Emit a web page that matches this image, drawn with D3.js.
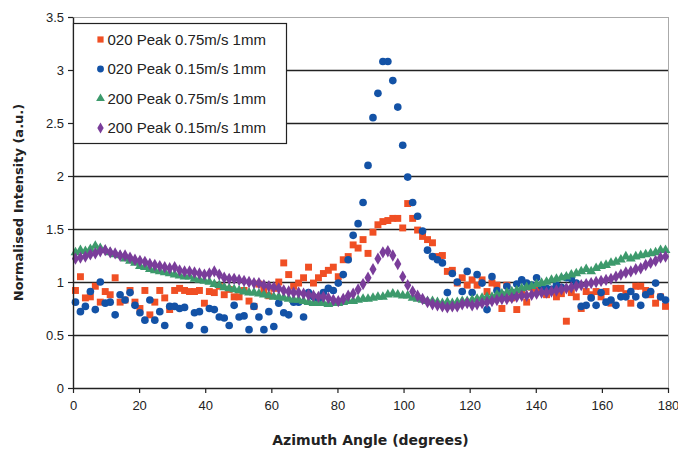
<!DOCTYPE html>
<html>
<head>
<meta charset="utf-8">
<script src="https://cdn.jsdelivr.net/npm/d3@7"></script>
<style>
  body { margin: 0; background: #fff; }
  text { font-family: "Liberation Sans", Arial, sans-serif; }
</style>
</head>
<body>
<svg id="chart"></svg>
<script>
// bin centres, 1.5 degree steps
const angles = d3.range(0.75, 180, 1.5);

const peak020Fast = [0.92,1.05,0.85,0.86,0.96,0.81,0.91,0.88,1.04,0.81,0.83,0.92,0.81,0.75,0.92,0.69,0.81,0.92,0.85,0.74,
  0.92,0.94,0.92,0.91,0.91,0.92,0.80,0.91,0.90,0.96,0.88,0.93,0.86,0.86,0.92,0.82,0.77,0.98,0.92,0.87,
  0.94,1.00,1.18,1.07,0.96,0.99,1.04,1.14,0.99,1.04,1.08,1.11,1.14,1.05,1.21,1.24,1.35,1.32,1.40,1.27,
  1.47,1.54,1.57,1.58,1.60,1.60,1.51,1.74,1.60,1.49,1.43,1.40,1.37,1.24,1.25,1.10,1.11,0.99,1.04,0.97,
  1.02,0.97,1.02,0.91,0.99,0.97,0.75,0.97,0.85,0.74,0.90,0.81,0.95,0.92,0.96,0.88,0.92,0.86,0.89,0.63,
  0.90,0.86,0.75,0.91,0.88,0.91,0.86,0.91,0.80,0.94,0.94,0.89,0.80,0.96,0.96,0.92,0.88,0.80,0.86,0.77];

const peak020Slow = [0.81,0.72,0.77,0.91,0.74,1.00,0.80,0.81,0.69,0.88,0.83,0.90,0.78,0.71,0.64,0.83,0.64,0.72,0.59,0.77,
  0.77,0.75,0.76,0.59,0.71,0.72,0.55,0.75,0.74,0.67,0.66,0.59,0.78,0.67,0.68,0.55,0.77,0.67,0.55,0.72,
  0.58,0.80,0.71,0.69,0.81,0.81,0.67,0.90,0.86,0.84,0.90,0.94,0.92,0.99,1.07,1.21,1.44,1.55,1.75,2.10,
  2.55,2.78,3.08,3.08,2.90,2.65,2.29,1.99,1.75,1.62,1.48,1.30,1.24,1.21,1.18,0.90,1.08,1.00,0.91,1.10,
  0.90,1.07,0.99,0.74,1.05,0.92,0.88,0.96,0.90,0.98,1.02,0.99,0.97,1.04,0.96,0.94,0.93,0.97,0.95,1.04,
  1.03,0.99,0.77,0.78,0.85,0.78,0.90,0.81,0.83,0.78,0.86,0.86,0.91,0.86,0.78,0.88,0.91,0.99,0.86,0.83];

const peak200Fast = [1.28,1.30,1.29,1.31,1.34,1.32,1.30,1.28,1.26,1.25,1.22,1.20,1.18,1.15,1.14,1.12,1.11,1.10,1.09,1.08,
  1.07,1.06,1.05,1.05,1.03,1.02,1.01,1.00,0.98,0.97,0.95,0.94,0.93,0.92,0.91,0.90,0.90,0.89,0.88,0.87,
  0.86,0.86,0.85,0.84,0.83,0.83,0.82,0.81,0.80,0.80,0.80,0.79,0.80,0.80,0.81,0.82,0.82,0.83,0.84,0.84,
  0.85,0.86,0.86,0.88,0.89,0.88,0.87,0.87,0.85,0.84,0.83,0.82,0.82,0.81,0.80,0.81,0.80,0.81,0.82,0.82,
  0.83,0.84,0.85,0.86,0.86,0.88,0.89,0.90,0.91,0.92,0.94,0.95,0.96,0.98,0.99,1.00,1.02,1.03,1.04,1.05,
  1.07,1.08,1.10,1.12,1.10,1.13,1.15,1.16,1.18,1.19,1.21,1.24,1.22,1.24,1.25,1.26,1.27,1.28,1.30,1.30];

const peak200Slow = [1.22,1.23,1.24,1.26,1.27,1.29,1.30,1.28,1.27,1.25,1.25,1.23,1.21,1.20,1.19,1.17,1.16,1.15,1.14,1.13,
  1.14,1.11,1.10,1.10,1.09,1.08,1.07,1.08,1.10,1.07,1.04,1.03,1.03,1.02,1.01,1.00,0.99,0.99,0.97,0.96,
  0.95,0.94,0.92,0.91,0.90,0.90,0.89,0.88,0.87,0.86,0.86,0.85,0.83,0.82,0.84,0.87,0.89,0.93,0.98,1.04,
  1.12,1.22,1.28,1.29,1.25,1.17,1.05,0.97,0.91,0.87,0.84,0.81,0.79,0.78,0.77,0.76,0.77,0.77,0.79,0.80,
  0.78,0.79,0.80,0.81,0.82,0.83,0.84,0.84,0.85,0.86,0.87,0.87,0.88,0.89,0.90,0.90,0.91,0.92,0.93,0.94,
  0.95,0.96,0.97,0.98,0.99,1.00,1.01,1.02,1.03,1.05,1.07,1.09,1.10,1.12,1.13,1.16,1.18,1.20,1.23,1.24];

const seriesNames = ['020 Peak 0.75m/s 1mm', '020 Peak 0.15m/s 1mm', '200 Peak 0.75m/s 1mm', '200 Peak 0.15m/s 1mm'];
const xTicks = [0, 20, 40, 60, 80, 100, 120, 140, 160, 180];
const yTicks = [0, 0.5, 1, 1.5, 2, 2.5, 3, 3.5];

let width = 678;
let height = 452;
let margin = {left: 73, top: 17, right: 10, bottom: 64};

let svg = d3.select('#chart').attr('width', width).attr('height', height);

let xScale = d3.scaleLinear().domain([0, 180]).range([margin.left, width - margin.right]);
let yScale = d3.scaleLinear().domain([0, 3.5]).range([height - margin.bottom, margin.top]);

let series = [
    {name: seriesNames[0], values: peak020Fast, color: '#f04f24', symbol: d3.symbolSquare, size: 48},
    {name: seriesNames[1], values: peak020Slow, color: '#1352a6', symbol: d3.symbolCircle, size: 46},
    {name: seriesNames[2], values: peak200Fast, color: '#3d9a6c', symbol: d3.symbolTriangle, size: 42},
    {name: seriesNames[3], values: peak200Slow, color: '#7a3d9a', symbol: d3.symbolDiamond, size: 44}
];

// gridlines
svg.append('g')
    .selectAll('line')
    .data(yTicks.filter(d => d > 0))
    .enter()
    .append('line')
    .attr('x1', margin.left)
    .attr('x2', width - margin.right)
    .attr('y1', d => Math.round(yScale(d)) + 0.5)
    .attr('y2', d => Math.round(yScale(d)) + 0.5)
    .attr('stroke', d => d === 3.5 ? '#aaa' : '#222')
    .attr('stroke-width', d => d === 3.5 ? 1 : 1.4);

// right frame edge
svg.append('line')
    .attr('x1', xScale(180) + 0.5).attr('x2', xScale(180) + 0.5)
    .attr('y1', yScale(3.5)).attr('y2', yScale(0))
    .attr('stroke', '#aaa');

// points
series.forEach(s => {
    svg.append('g')
        .selectAll('path')
        .data(s.values)
        .enter()
        .append('path')
        .attr('d', d3.symbol().type(s.symbol).size(s.size))
        .attr('transform', (d, i) => 'translate(' + xScale(angles[i]) + ',' + yScale(d) + ')')
        .attr('fill', s.color);
});

// axes
let xAxis = d3.axisBottom(xScale).tickValues(xTicks).tickSize(5).tickSizeOuter(0);
let yAxis = d3.axisLeft(yScale).tickValues(yTicks).tickFormat(d => d).tickSize(5).tickSizeOuter(0);

svg.append('g')
    .attr('transform', 'translate(0,' + yScale(0) + ')')
    .call(xAxis)
    .call(g => g.select('.domain').attr('stroke', '#222').attr('stroke-width', 1.4))
    .call(g => g.selectAll('.tick line').attr('stroke', '#222').attr('stroke-width', 1.2))
    .call(g => g.selectAll('.tick text').attr('font-size', 13).attr('fill', '#222').attr('dy', '1.05em'));

svg.append('g')
    .attr('transform', 'translate(' + margin.left + ',0)')
    .call(yAxis)
    .call(g => g.select('.domain').attr('stroke', '#222').attr('stroke-width', 1.4))
    .call(g => g.selectAll('.tick line').attr('stroke', '#222').attr('stroke-width', 1.2))
    .call(g => g.selectAll('.tick text').attr('font-size', 13).attr('fill', '#222').attr('x', -9));

// axis titles
svg.append('text')
    .attr('x', (margin.left + width - margin.right) / 2)
    .attr('y', 445)
    .attr('text-anchor', 'middle')
    .style('font-family', '"DejaVu Sans", sans-serif')
    .attr('font-size', 14)
    .attr('font-weight', 'bold')
    .attr('fill', '#222')
    .text('Azimuth Angle (degrees)');

svg.append('text')
    .attr('transform', 'translate(23,' + yScale(1.75) + ') rotate(-90)')
    .attr('text-anchor', 'middle')
    .style('font-family', '"DejaVu Sans", sans-serif')
    .attr('font-size', 13)
    .attr('font-weight', 'bold')
    .attr('fill', '#222')
    .text('Normalised Intensity (a.u.)');

// legend
let legend = svg.append('g').attr('transform', 'translate(73.5,23.5)');
legend.append('rect')
    .attr('width', 213)
    .attr('height', 120)
    .attr('fill', '#fff')
    .attr('stroke', '#222')
    .attr('stroke-width', 1.2);

series.forEach((s, i) => {
    let row = legend.append('g').attr('transform', 'translate(0,' + (16 + i * 29.5) + ')');
    row.append('path')
        .attr('d', d3.symbol().type(s.symbol).size(s.size * 0.8))
        .attr('transform', 'translate(27,0)')
        .attr('fill', s.color);
    row.append('text')
        .attr('x', 34)
        .attr('y', 5)
        .attr('font-size', 15)
        .attr('fill', '#222')
        .text(s.name);
});
</script>
</body>
</html>
